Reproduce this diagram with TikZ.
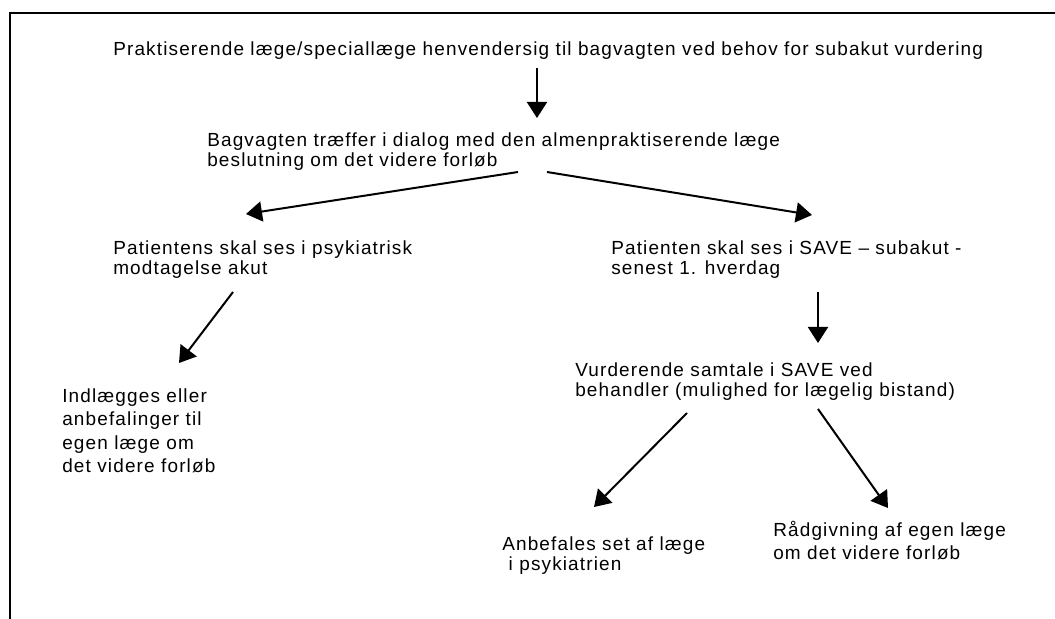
\documentclass[tikz,border=0pt]{standalone}
\usepackage{fontspec}
\setmainfont{Liberation Sans}[LetterSpace=6]
\usetikzlibrary{arrows.meta}

\begin{document}
\begin{tikzpicture}[x=0.025cm, y=-0.025cm,
    tekst/.style={anchor=north west, inner sep=0pt, align=left,
      font=\fontsize{13.5}{14.3}\selectfont},
    pil/.style={line width=0.5mm, -{Triangle[length=4mm, width=5mm]}}]
  %%%%% START %%%%%

  \useasboundingbox (0,0) rectangle (1055,619);
  \draw[line width=0.5mm] (1055,13) -- (10,13) -- (10,619);

  % tekstbokse
  \node[tekst] (henvend) at (113,41) {Praktiserende læge/speciallæge henvendersig til bagvagten ved behov for subakut vurdering};
  \node[tekst] (bagvagt) at (207,132) {Bagvagten træffer i dialog med den almenpraktiserende læge\\beslutning om det videre forløb};
  \node[tekst] (akut) at (113,240) {Patientens skal ses i psykiatrisk\\modtagelse akut};
  \node[tekst] (save) at (611,240) {Patienten skal ses i SAVE – subakut -\\senest 1. hverdag};
  \node[tekst, font=\fontsize{13.5}{16.8}\selectfont] (indl) at (62,388) {Indlægges eller\\anbefalinger til\\egen læge om\\det videre forløb};
  \node[tekst] (samtale) at (575,362) {Vurderende samtale i SAVE ved\\behandler (mulighed for lægelig bistand)};
  \node[tekst] (anbef) at (502,536) {Anbefales set af læge\\\ i psykiatrien};
  \node[tekst, font=\fontsize{13.5}{16.3}\selectfont] (raad) at (773,521) {Rådgivning af egen læge\\om det videre forløb};

  % pilenes endepunkter
  \coordinate (p1a) at (537,68);  \coordinate (p1b) at (537,118);
  \coordinate (p2a) at (518,172); \coordinate (p2b) at (246,214);
  \coordinate (p3a) at (547,172); \coordinate (p3b) at (812,215);
  \coordinate (p4a) at (233,292); \coordinate (p4b) at (179,363);
  \coordinate (p5a) at (818,292); \coordinate (p5b) at (818,343);
  \coordinate (p6a) at (687,413); \coordinate (p6b) at (594,507);
  \coordinate (p7a) at (818,409); \coordinate (p7b) at (888,508);

  \draw[pil] (p1a) -- (p1b);
  \draw[pil] (p2a) -- (p2b);
  \draw[pil] (p3a) -- (p3b);
  \draw[pil] (p4a) -- (p4b);
  \draw[pil] (p5a) -- (p5b);
  \draw[pil] (p6a) -- (p6b);
  \draw[pil] (p7a) -- (p7b);

  %%%%% END %%%%%
\end{tikzpicture}
\end{document}
